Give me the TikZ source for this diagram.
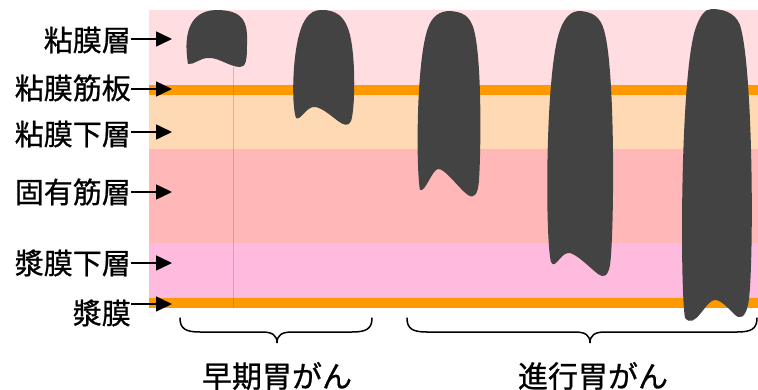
\documentclass[tikz,border=0pt]{standalone}
\usepackage{fontspec}
\setmainfont{Noto Sans CJK JP}
\newfontfamily\labfont{Noto Sans CJK JP}[FakeBold=0.8]
\usetikzlibrary{arrows.meta}
\definecolor{mucosa}{HTML}{FFDDE1}
\definecolor{mmuscle}{HTML}{FF9900}
\definecolor{submucosa}{HTML}{FFD9B3}
\definecolor{propria}{HTML}{FFB7B8}
\definecolor{subserosa}{HTML}{FFBBDD}
\definecolor{tumor}{HTML}{434343}
\tikzset{
  lab/.style={anchor=east,inner sep=0pt,font=\labfont\fontsize{29}{29}\selectfont},
  caption/.style={inner sep=0pt,font=\labfont\fontsize{30}{30}\selectfont},
  arr/.style={line width=1.6pt,-{Triangle[length=16pt,width=15pt]}},
  lesion/.style={fill=tumor,draw=none},
  bracket/.style={line width=1.5pt,line cap=round},
}
\begin{document}
\begin{tikzpicture}[x=1pt,y=-1pt]
\useasboundingbox (0,0) rectangle (758,390);
% wall layers
\fill[mucosa]    (149,10)  rectangle (758,85);
\fill[mmuscle]   (149,85)  rectangle (758,95);
\fill[submucosa] (149,95)  rectangle (758,149);
\fill[propria]   (149,149) rectangle (758,243);
\fill[subserosa] (149,243) rectangle (758,298);
\fill[mmuscle]   (149,298) rectangle (758,308);
\draw[black!60,opacity=0.3,line width=0.6pt] (233,67) -- (233,308);
% lesions, shallow to deep
\fill[lesion] (188,64) .. controls (184,40) and (186,11) .. (216,10)
  .. controls (244,10) and (248,22) .. (247,45)
  .. controls (247,60) and (246,67) .. (240,67)
  .. controls (230,67) and (218,57) .. (208,58)
  .. controls (200,58) and (194,65) .. (188,64) -- cycle;
\fill[lesion] (296,118) .. controls (291,105) and (292,40) .. (305,20)
  .. controls (310,12) and (315,10) .. (322,10)
  .. controls (335,10) and (345,15) .. (350,35)
  .. controls (356,60) and (355,110) .. (351,121)
  .. controls (349,127) and (343,125) .. (338,121)
  .. controls (330,115) and (320,106) .. (313,107)
  .. controls (306,108) and (300,121) .. (296,118) -- cycle;
\fill[lesion] (420,190) .. controls (416,170) and (416,60) .. (428,28)
  .. controls (432,16) and (440,11) .. (450,11)
  .. controls (462,12) and (470,15) .. (474,30)
  .. controls (482,60) and (481,150) .. (479,180)
  .. controls (478,195) and (474,199) .. (468,195)
  .. controls (460,190) and (445,168) .. (438,169)
  .. controls (432,170) and (425,193) .. (420,190) -- cycle;
\fill[lesion] (551,262) .. controls (545,240) and (545,70) .. (560,30)
  .. controls (565,16) and (572,11) .. (580,11)
  .. controls (592,12) and (600,16) .. (604,30)
  .. controls (616,70) and (614,240) .. (610,265)
  .. controls (608,277) and (603,278) .. (598,274)
  .. controls (590,268) and (575,252) .. (568,253)
  .. controls (560,254) and (555,270) .. (551,262) -- cycle;
\fill[lesion] (685,318) .. controls (680,290) and (680,80) .. (695,30)
  .. controls (700,15) and (705,9) .. (712,9)
  .. controls (722,9) and (735,12) .. (740,25)
  .. controls (754,70) and (754,280) .. (748,305)
  .. controls (745,318) and (740,320) .. (734,314)
  .. controls (728,308) and (720,299) .. (714,300)
  .. controls (705,302) and (695,330) .. (685,318) -- cycle;
% layer labels
\node[lab] (l1) at (131,40)  {粘膜層};
\node[lab] (l2) at (131,88)  {粘膜筋板};
\node[lab] (l3) at (131,134) {粘膜下層};
\node[lab] (l4) at (131,192) {固有筋層};
\node[lab] (l5) at (131,263) {漿膜下層};
\node[lab] (l6) at (131,313) {漿膜};
\coordinate (t1) at (172,39);
\coordinate (t2) at (172,89);
\coordinate (t3) at (172,132);
\coordinate (t4) at (172,192);
\coordinate (t5) at (172,263);
\coordinate (t6) at (172,304);
\foreach \i in {1,...,6} \draw[arr] (t\i -| l\i.east) -- (t\i);
% group braces
\coordinate (ea) at (180,318); \coordinate (eb) at (372,318);
\coordinate (ec) at (407,318); \coordinate (ed) at (757,318);
\draw[bracket] (ea) .. controls (180,329) and (186,332) .. (200,332) -- (262,332)
  .. controls (272,332) and (277,335) .. (277,343)
  .. controls (277,335) and (282,332) .. (292,332) -- (352,332)
  .. controls (366,332) and (372,329) .. (eb);
\draw[bracket] (ec) .. controls (407,329) and (413,332) .. (427,332) -- (575,332)
  .. controls (585,332) and (590,335) .. (590,343)
  .. controls (590,335) and (595,332) .. (605,332) -- (737,332)
  .. controls (751,332) and (757,329) .. (ed);
\node[caption] (early) at (277,376) {早期胃がん};
\node[caption] (adv) at (593,376) {進行胃がん};
\end{tikzpicture}
\end{document}
